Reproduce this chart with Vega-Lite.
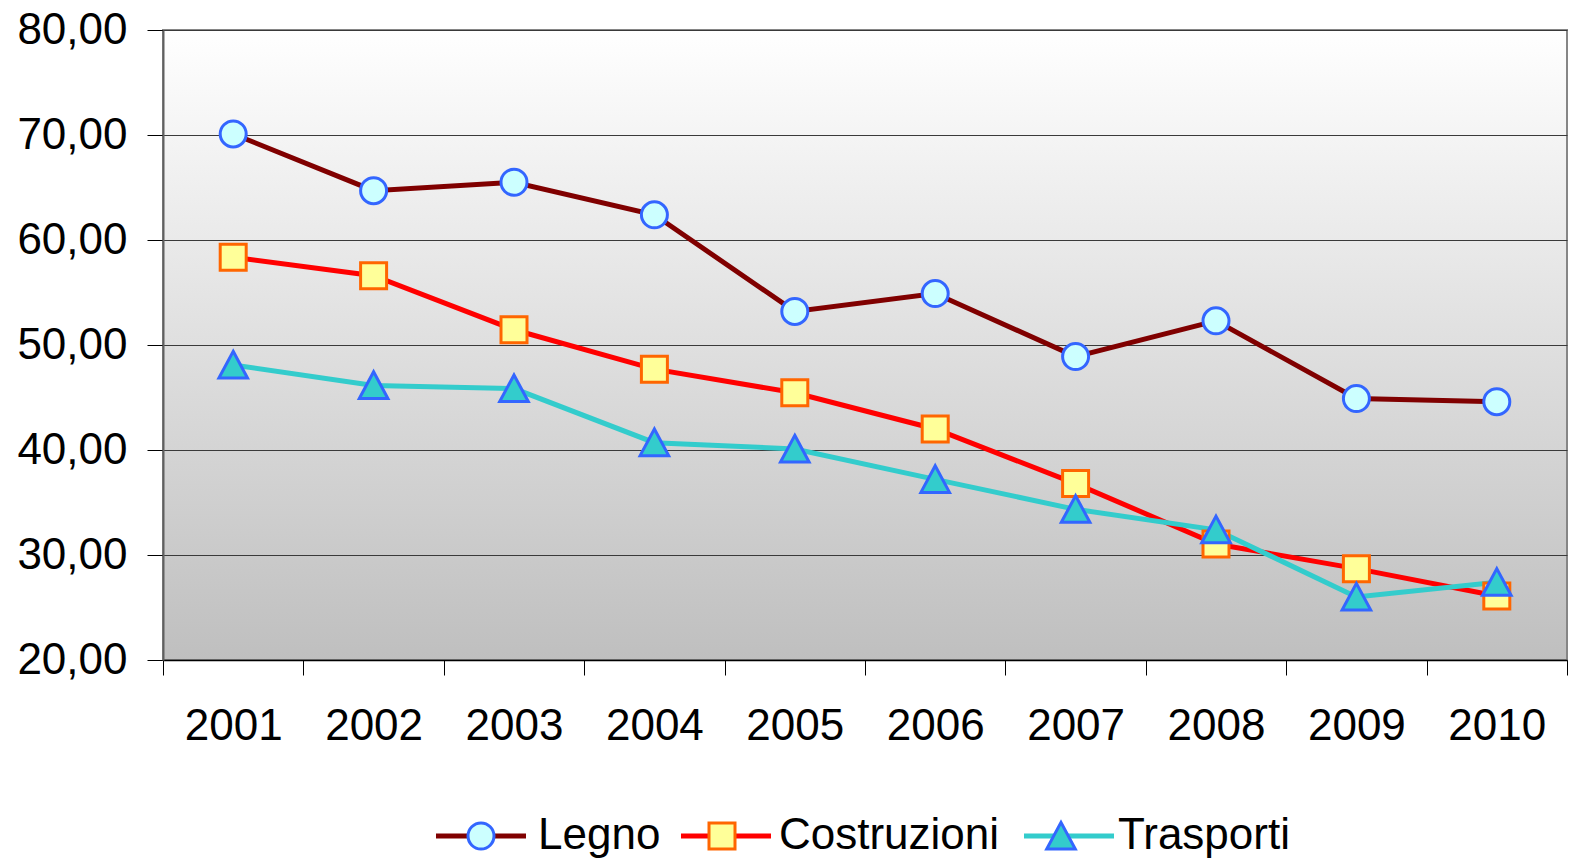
{
  "$schema": "https://vega.github.io/schema/vega-lite/v6.json",
  "width": 1404,
  "height": 630,
  "autosize": {"type": "none"},
  "padding": {"left": 163, "top": 30, "right": 3, "bottom": 201},
  "background": "white",
  "data": {
    "values": [
      {"year": "2001", "series": "Legno", "value": 70.1},
      {"year": "2002", "series": "Legno", "value": 64.7},
      {"year": "2003", "series": "Legno", "value": 65.5},
      {"year": "2004", "series": "Legno", "value": 62.4},
      {"year": "2005", "series": "Legno", "value": 53.2},
      {"year": "2006", "series": "Legno", "value": 54.9},
      {"year": "2007", "series": "Legno", "value": 48.9},
      {"year": "2008", "series": "Legno", "value": 52.3},
      {"year": "2009", "series": "Legno", "value": 44.9},
      {"year": "2010", "series": "Legno", "value": 44.6},
      {"year": "2001", "series": "Costruzioni", "value": 58.35},
      {"year": "2002", "series": "Costruzioni", "value": 56.6},
      {"year": "2003", "series": "Costruzioni", "value": 51.45},
      {"year": "2004", "series": "Costruzioni", "value": 47.7},
      {"year": "2005", "series": "Costruzioni", "value": 45.45},
      {"year": "2006", "series": "Costruzioni", "value": 42.0},
      {"year": "2007", "series": "Costruzioni", "value": 36.8},
      {"year": "2008", "series": "Costruzioni", "value": 31.05},
      {"year": "2009", "series": "Costruzioni", "value": 28.7},
      {"year": "2010", "series": "Costruzioni", "value": 26.1},
      {"year": "2001", "series": "Trasporti", "value": 48.1},
      {"year": "2002", "series": "Trasporti", "value": 46.15},
      {"year": "2003", "series": "Trasporti", "value": 45.85},
      {"year": "2004", "series": "Trasporti", "value": 40.7},
      {"year": "2005", "series": "Trasporti", "value": 40.1},
      {"year": "2006", "series": "Trasporti", "value": 37.2},
      {"year": "2007", "series": "Trasporti", "value": 34.35},
      {"year": "2008", "series": "Trasporti", "value": 32.4},
      {"year": "2009", "series": "Trasporti", "value": 26.0},
      {"year": "2010", "series": "Trasporti", "value": 27.4}
    ]
  },
  "config": {
    "font": "Liberation Sans",
    "view": {
      "stroke": "#868686",
      "strokeWidth": 2,
      "fill": {
        "gradient": "linear",
        "x1": 0, "y1": 0, "x2": 0, "y2": 1,
        "stops": [
          {"offset": 0, "color": "#ffffff"},
          {"offset": 1, "color": "#bfbfbf"}
        ]
      }
    },
    "axis": {
      "labelFont": "Liberation Sans",
      "labelFontSize": 44,
      "labelColor": "#000000",
      "tickColor": "#000000",
      "tickWidth": 1,
      "title": null
    }
  },
  "encoding": {
    "x": {
      "field": "year",
      "type": "ordinal",
      "scale": {"paddingInner": 0, "paddingOuter": 0},
      "axis": {
        "labelAngle": 0,
        "tickBand": "extent",
        "tickSize": 15,
        "labelPadding": 29,
        "domainColor": "#000000",
        "domainWidth": 1.5,
        "grid": false
      }
    },
    "y": {
      "field": "value",
      "type": "quantitative",
      "scale": {"domain": [20, 80], "nice": false, "zero": false},
      "axis": {
        "values": [20, 30, 40, 50, 60, 70, 80],
        "labelExpr": "replace(format(datum.value, '.2f'), '.', ',')",
        "tickSize": 16,
        "labelPadding": 20,
        "domainColor": "#606060",
        "domainWidth": 2,
        "grid": true,
        "gridColor": "#3a3a3a",
        "gridWidth": 1,
        "gridOpacity": 1
      }
    }
  },
  "layer": [
    {
      "mark": {"type": "line", "strokeWidth": 5, "opacity": 1},
      "encoding": {
        "stroke": {
          "field": "series",
          "type": "nominal",
          "scale": {"domain": ["Legno", "Costruzioni", "Trasporti"], "range": ["#800000", "#ff0000", "#33cccc"]},
          "legend": {
            "orient": "none", "legendX": 296, "legendY": 784, "direction": "horizontal",
            "title": null, "padding": 0,
            "symbolType": "M-3.462,0H3.462", "symbolSize": 676, "symbolStrokeWidth": 5,
            "symbolFillColor": "transparent",
            "labelFont": "Liberation Sans", "labelFontSize": 44, "labelOpacity": 0, "labelLimit": 500,
            "labelOffset": 35, "columnPadding": 9
          }
        }
      }
    },
    {
      "mark": {"type": "point", "filled": true, "size": 676, "strokeWidth": 3, "opacity": 1, "fillOpacity": 1, "strokeOpacity": 1},
      "encoding": {
        "shape": {
          "field": "series",
          "type": "nominal",
          "scale": {"domain": ["Legno", "Costruzioni", "Trasporti"], "range": ["M-3.538,0M3.538,0M1,0A1,1 0 1,1 -1,0A1,1 0 1,1 1,0Z", "M-3.538,0M3.538,0M-1,-1H1V1H-1Z", "M-3.538,0M3.538,0M0,-1.05L1.1,1L-1.1,1Z"]},
          "legend": {
            "orient": "none", "legendX": 296, "legendY": 784, "direction": "horizontal",
            "title": null, "padding": 0,
            "symbolSize": 676, "symbolStrokeWidth": 3, "symbolOpacity": 1,
            "labelFont": "Liberation Sans", "labelFontSize": 44, "labelColor": "#000000", "labelLimit": 500,
            "labelOffset": 35, "columnPadding": 9
          }
        },
        "fill": {
          "field": "series",
          "type": "nominal",
          "scale": {"domain": ["Legno", "Costruzioni", "Trasporti"], "range": ["#ccffff", "#ffff99", "#33cccc"]},
          "legend": {
            "orient": "none", "legendX": 296, "legendY": 784, "direction": "horizontal",
            "title": null, "padding": 0,
            "symbolSize": 676, "symbolStrokeWidth": 3, "symbolOpacity": 1,
            "labelFont": "Liberation Sans", "labelFontSize": 44, "labelColor": "#000000", "labelLimit": 500,
            "labelOffset": 35, "columnPadding": 9
          }
        },
        "stroke": {
          "field": "series",
          "type": "nominal",
          "scale": {"domain": ["Legno", "Costruzioni", "Trasporti"], "range": ["#3366ff", "#ff6600", "#3366ff"]},
          "legend": {
            "orient": "none", "legendX": 296, "legendY": 784, "direction": "horizontal",
            "title": null, "padding": 0,
            "symbolSize": 676, "symbolStrokeWidth": 3, "symbolOpacity": 1,
            "labelFont": "Liberation Sans", "labelFontSize": 44, "labelColor": "#000000", "labelLimit": 500,
            "labelOffset": 35, "columnPadding": 9
          }
        }
      }
    }
  ],
  "resolve": {
    "scale": {"stroke": "independent", "fill": "independent", "shape": "independent"},
    "legend": {"stroke": "independent", "fill": "independent", "shape": "independent"}
  }
}
